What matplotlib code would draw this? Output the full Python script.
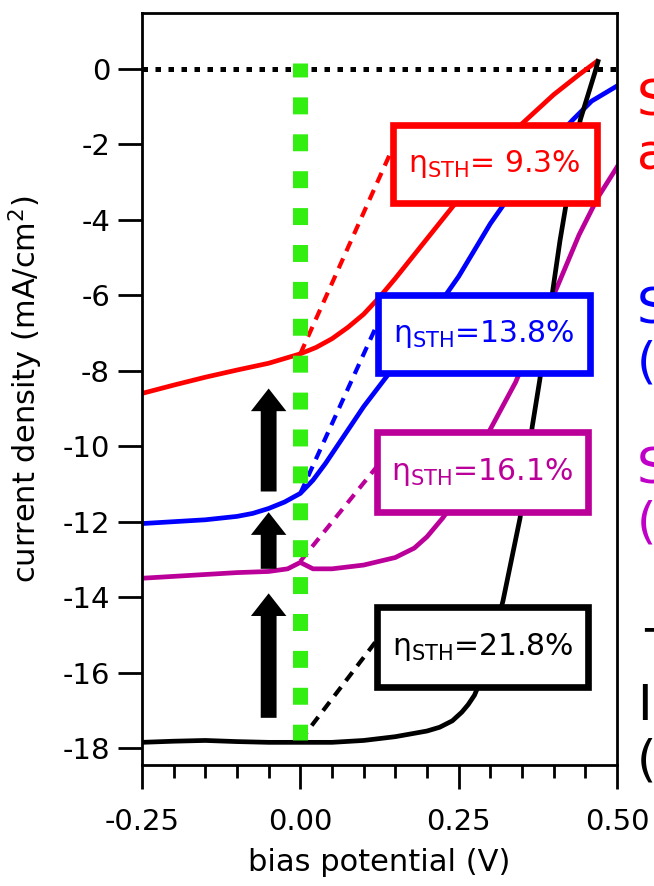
import matplotlib
matplotlib.use("Agg")
import matplotlib.pyplot as plt
from matplotlib.patches import Rectangle
from matplotlib.ticker import MultipleLocator

plt.rcParams['font.family'] = 'DejaVu Sans'
plt.rcParams['axes.unicode_minus'] = False

# J-V curves: bias potential (V) vs current density (mA/cm2)
red_v = [-0.25, -0.20, -0.15, -0.10, -0.05, 0.00, 0.025, 0.05, 0.075, 0.10, 0.125, 0.15, 0.20, 0.25, 0.30, 0.35, 0.40, 0.44, 0.468]
red_j = [-8.60, -8.38, -8.17, -7.98, -7.80, -7.55, -7.38, -7.15, -6.85, -6.50, -6.05, -5.55, -4.50, -3.45, -2.40, -1.45, -0.68, -0.15, 0.20]

blue_v = [-0.25, -0.20, -0.15, -0.10, -0.075, -0.05, -0.025, 0.00, 0.02, 0.04, 0.06, 0.08, 0.10, 0.15, 0.20, 0.25, 0.30, 0.35, 0.40, 0.43, 0.46, 0.50]
blue_j = [-12.05, -12.00, -11.95, -11.86, -11.78, -11.65, -11.48, -11.25, -10.90, -10.45, -9.95, -9.45, -8.95, -7.85, -6.70, -5.50, -4.10, -2.90, -1.90, -1.35, -0.85, -0.45]

mag_v = [-0.25, -0.20, -0.15, -0.10, -0.05, -0.02, 0.00, 0.02, 0.05, 0.10, 0.15, 0.18, 0.20, 0.225, 0.25, 0.28, 0.30, 0.34, 0.37, 0.405, 0.44, 0.47, 0.50]
mag_j = [-13.50, -13.45, -13.40, -13.35, -13.32, -13.25, -13.08, -13.25, -13.25, -13.15, -12.95, -12.70, -12.40, -11.90, -11.30, -10.30, -9.55, -8.30, -7.10, -5.80, -4.40, -3.40, -2.60]

blk_v = [-0.25, -0.20, -0.15, -0.10, -0.05, 0.00, 0.05, 0.10, 0.15, 0.20, 0.22, 0.24, 0.255, 0.265, 0.275, 0.285, 0.30, 0.32, 0.347, 0.366, 0.378, 0.41, 0.442, 0.465, 0.47]
blk_j = [-17.85, -17.82, -17.80, -17.83, -17.85, -17.85, -17.85, -17.80, -17.70, -17.55, -17.45, -17.28, -17.05, -16.85, -16.60, -16.20, -15.40, -14.10, -11.90, -9.50, -8.25, -4.55, -1.35, -0.10, 0.20]

# tangent (max power) lines from the 0 V point
red_tan = ([0.0, 0.155], [-7.55, -1.75])
blue_tan = ([0.0, 0.13], [-11.25, -6.45])
mag_tan = ([0.0, 0.13], [-13.05, -10.35])
blk_tan = ([0.0, 0.13], [-17.80, -14.94])

labels = [r'$\mathregular{\eta_{STH}}$= 9.3%', r'$\mathregular{\eta_{STH}}$=13.8%',
          r'$\mathregular{\eta_{STH}}$=16.1%', r'$\mathregular{\eta_{STH}}$=21.8%']

RED, BLUE, MAG, BLK = '#ff0000', '#0000ff', '#bb0099', '#000000'
GREEN = '#33ee11'

fig = plt.figure(figsize=(6.54, 8.86), dpi=100)
ax = fig.add_axes([0.2171, 0.1366, 0.7263, 0.8487])

# zero line
ax.plot([-0.25, 0.5], [0, 0], color='black', lw=3.6, dashes=(1.1, 1.5), zorder=1)

for v, j, c in [(red_v, red_j, RED), (blue_v, blue_j, BLUE), (mag_v, mag_j, MAG), (blk_v, blk_j, BLK)]:
    ax.plot(v, j, color=c, lw=3.4, zorder=2)

for (tv, tj), c in [(red_tan, RED), (blue_tan, BLUE), (mag_tan, MAG), (blk_tan, BLK)]:
    ax.plot(tv, tj, color=c, lw=3.0, dashes=(2.6, 1.9), zorder=2)

# green vertical at 0 V
ax.plot([0, 0], [0.16, -17.8], color=GREEN, lw=10.8, solid_capstyle='butt',
        dash_capstyle='butt', linestyle=(0.2, (1.13, 1.33)), zorder=3)

# arrows
for y0, y1 in [(-17.2, -13.9), (-13.25, -11.75), (-11.2, -8.47)]:
    ax.arrow(-0.05, y0, 0, y1 - y0, width=0.025, head_width=0.056, head_length=0.6,
             length_includes_head=True, color='black', lw=0, zorder=3)

# efficiency boxes (x0, x1, y0, y1)
boxes = [(0.146, 0.468, -3.55, -1.48), (0.123, 0.457, -8.06, -5.99),
         (0.121, 0.454, -11.74, -9.62), (0.121, 0.454, -16.38, -14.26)]
for (x0, x1, y0, y1), lab, c in zip(boxes, labels, [RED, BLUE, MAG, BLK]):
    ax.add_patch(Rectangle((x0, y0), x1 - x0, y1 - y0, facecolor='white', edgecolor=c,
                           lw=4.8, zorder=4, joinstyle='miter'))
    ax.text((x0 + x1) / 2, (y0 + y1) / 2, lab, color=c, fontsize=21.5, ha='center',
            va='center', zorder=5)

ax.set_xlim(-0.25, 0.5)
ax.set_ylim(-18.45, 1.485)
ax.set_xticks([-0.25, 0.0, 0.25, 0.5])
ax.set_xticklabels(['-0.25', '0.00', '0.25', '0.50'])
ax.xaxis.set_minor_locator(MultipleLocator(0.05))
ax.set_yticks(range(-18, 1, 2))
ax.tick_params(axis='both', which='major', direction='out', length=17, width=2,
               labelsize=21)
ax.tick_params(axis='x', which='major', pad=14)
ax.tick_params(axis='y', which='major', pad=6)
ax.tick_params(axis='x', which='minor', direction='out', length=9.5, width=2)
for s in ax.spines.values():
    s.set_linewidth(2)

ax.set_xlabel('bias potential (V)', fontsize=22)
ax.set_ylabel('current density (mA/cm$^2$)', fontsize=22)
ax.xaxis.set_label_coords(0.5, -0.111)
ax.yaxis.set_label_coords(-0.204, 0.5)

# labels cut off at the right edge
side = [('S', RED, 637, 115), ('a', RED, 637, 170),
        ('S', BLUE, 637, 323), ('(', BLUE, 637, 378),
        ('S', '#c000c8', 637, 483), ('(i', '#c000c8', 637, 538),
        ('T', BLK, 644, 664), ('I', BLK, 637, 720), ('(', BLK, 637, 776)]
for s, c, px, py in side:
    fig.text(px / 654, 1 - py / 886, s, color=c, fontsize=36, ha='left', va='baseline')

fig.savefig('out.png', dpi=100)
